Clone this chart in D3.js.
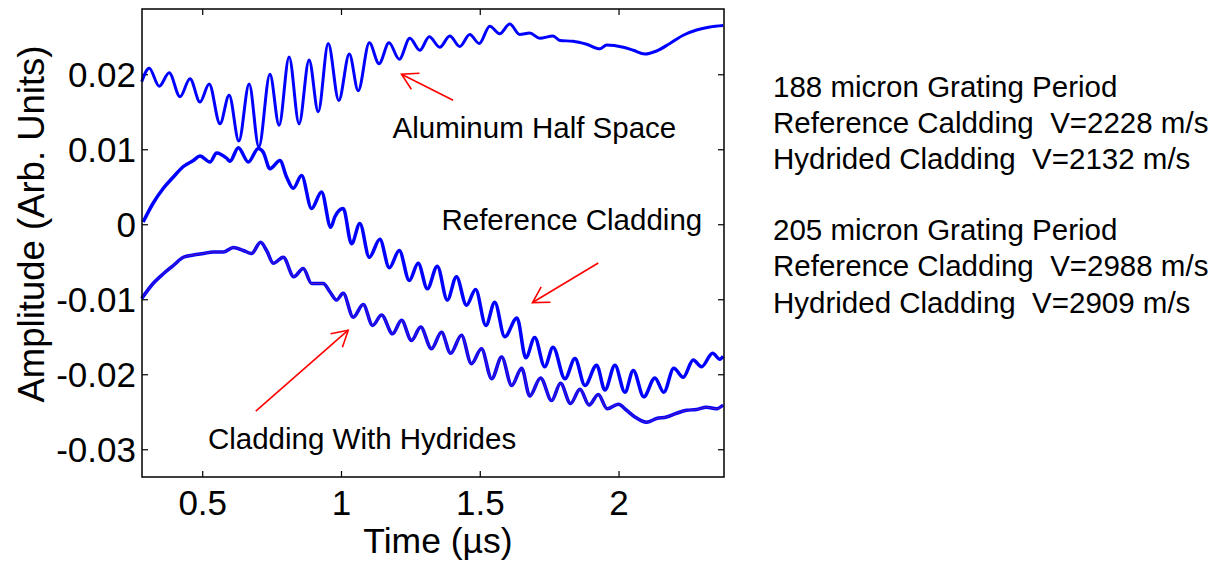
<!DOCTYPE html>
<html><head><meta charset="utf-8">
<script src="https://cdn.jsdelivr.net/npm/d3@7"></script>
<style>
body{margin:0;background:#fff}
text{font-family:"Liberation Sans",Arial,Helvetica,sans-serif;fill:#000}
</style>
</head><body>
<svg id="chart" width="1222" height="571"></svg>
<script>
// ---------- data (time in µs, amplitude in arb. units) ----------
const timeAl = [0.282,0.309,0.345,0.381,0.420,0.456,0.492,0.525,0.564,0.597,0.632,0.669,0.704,0.744,0.777,0.813,0.849,0.885,0.918,0.954,0.992,1.030,1.062,1.102,1.137,1.173,1.210,1.248,1.284,1.318,1.356,1.392,1.428,1.464,1.498,1.536,1.572,1.608,1.644,1.680,1.716,1.764,1.789,1.836,1.885,1.933,1.957,2.017,2.053,2.095,2.137,2.185,2.233,2.281,2.329,2.377];
const ampAl  = [0.0190,0.0208,0.0184,0.0202,0.0170,0.0194,0.0163,0.0187,0.0134,0.0172,0.0111,0.0187,0.0103,0.0200,0.0132,0.0223,0.0134,0.0219,0.0150,0.0241,0.0165,0.0227,0.0178,0.0242,0.0214,0.0242,0.0220,0.0248,0.0232,0.0250,0.0236,0.0251,0.0237,0.0253,0.0241,0.0264,0.0254,0.0267,0.0253,0.0255,0.0248,0.0251,0.0245,0.0244,0.0240,0.0234,0.0239,0.0236,0.0232,0.0227,0.0231,0.0241,0.0252,0.0259,0.0263,0.0265];

const timeRef = [0.287,0.323,0.360,0.396,0.432,0.468,0.492,0.528,0.552,0.588,0.600,0.630,0.666,0.702,0.720,0.744,0.780,0.804,0.828,0.858,0.894,0.930,0.963,0.978,1.008,1.038,1.068,1.102,1.140,1.174,1.210,1.246,1.278,1.311,1.347,1.383,1.416,1.452,1.485,1.522,1.554,1.590,1.634,1.666,1.698,1.734,1.764,1.807,1.843,1.879,1.921,1.951,1.987,2.023,2.053,2.091,2.131,2.163,2.199,2.233,2.269,2.299,2.339,2.365,2.377];
const ampRef  = [0.0003,0.0028,0.0048,0.0063,0.0077,0.0085,0.0091,0.0083,0.0095,0.0088,0.0084,0.0102,0.0083,0.0101,0.0096,0.0074,0.0085,0.0063,0.0048,0.0065,0.0021,0.0043,-0.0004,0.0010,0.0021,-0.0026,0.0001,-0.0044,-0.0020,-0.0058,-0.0035,-0.0075,-0.0052,-0.0086,-0.0056,-0.0101,-0.0070,-0.0108,-0.0087,-0.0135,-0.0104,-0.0150,-0.0125,-0.0178,-0.0151,-0.0190,-0.0164,-0.0206,-0.0179,-0.0215,-0.0188,-0.0221,-0.0188,-0.0224,-0.0195,-0.0230,-0.0205,-0.0224,-0.0192,-0.0204,-0.0181,-0.0190,-0.0172,-0.0180,-0.0176];

const timeHyd = [0.282,0.323,0.360,0.396,0.432,0.468,0.504,0.540,0.576,0.612,0.648,0.678,0.710,0.732,0.756,0.792,0.830,0.864,0.894,0.936,0.960,0.984,1.008,1.044,1.080,1.114,1.146,1.186,1.218,1.254,1.287,1.326,1.362,1.395,1.434,1.470,1.506,1.543,1.579,1.615,1.651,1.680,1.719,1.759,1.791,1.827,1.861,1.894,1.927,1.959,1.999,2.029,2.059,2.101,2.137,2.173,2.209,2.245,2.281,2.317,2.353,2.377];
const ampHyd  = [-0.0099,-0.0079,-0.0066,-0.0055,-0.0044,-0.0041,-0.0039,-0.0037,-0.0037,-0.0031,-0.0035,-0.0039,-0.0024,-0.0035,-0.0052,-0.0044,-0.0070,-0.0059,-0.0079,-0.0079,-0.0090,-0.0101,-0.0092,-0.0124,-0.0107,-0.0135,-0.0121,-0.0146,-0.0128,-0.0155,-0.0137,-0.0166,-0.0144,-0.0172,-0.0148,-0.0186,-0.0166,-0.0206,-0.0177,-0.0215,-0.0192,-0.0229,-0.0205,-0.0235,-0.0212,-0.0239,-0.0220,-0.0241,-0.0227,-0.0246,-0.0240,-0.0248,-0.0257,-0.0264,-0.0259,-0.0257,-0.0252,-0.0248,-0.0247,-0.0244,-0.0246,-0.0241];

const xTicks = [0.5, 1, 1.5, 2];
const xTickLabels = ["0.5", "1", "1.5", "2"];
const yTicks = [-0.03, -0.02, -0.01, 0, 0.01, 0.02];
const yTickLabels = ["-0.03", "-0.02", "-0.01", "0", "0.01", "0.02"];
const xDomain = [0.283, 2.38];
const yDomain = [-0.0337, 0.0287];

const xTitle = "Time (\u00B5s)";
const yTitle = "Amplitude (Arb. Units)";

const labelTexts = ["Aluminum Half Space", "Reference Cladding", "Cladding With Hydrides"];
const labelTime  = [1.186, 1.362, 0.5205];
const labelAmp   = [0.01147, -0.0008, -0.0300];

const arrowFromTime = [1.404, 1.927, 0.693];
const arrowFromAmp  = [0.01653, -0.00516, -0.02493];
const arrowToTime   = [1.218, 1.690, 1.026];
const arrowToAmp    = [0.0200, -0.01044, -0.01413];

const notes = ["188 micron Grating Period", "Reference Caldding  V=2228 m/s", "Hydrided Cladding  V=2132 m/s",
               "205 micron Grating Period", "Reference Cladding  V=2988 m/s", "Hydrided Cladding  V=2909 m/s"];

// ---------- layout ----------
const L = 142, R = 724, T = 9, B = 477;
const svg = d3.select("#chart");
const x = d3.scaleLinear().domain(xDomain).range([L, R]);
const y = d3.scaleLinear().domain(yDomain).range([B, T]);

// axes (ticks inward on all sides)
const tickLen = 6;
const gB = svg.append("g").attr("transform", `translate(0,${B})`)
  .call(d3.axisBottom(x).tickValues(xTicks).tickFormat((d,i)=>xTickLabels[i]).tickSizeInner(-tickLen).tickSizeOuter(0).tickPadding(13));
const gT = svg.append("g").attr("transform", `translate(0,${T})`)
  .call(d3.axisTop(x).tickValues(xTicks).tickFormat("").tickSizeInner(-tickLen).tickSizeOuter(0));
const gL = svg.append("g").attr("transform", `translate(${L},0)`)
  .call(d3.axisLeft(y).tickValues(yTicks).tickFormat((d,i)=>yTickLabels[i]).tickSizeInner(-tickLen).tickSizeOuter(0).tickPadding(6));
const gR = svg.append("g").attr("transform", `translate(${R},0)`)
  .call(d3.axisRight(y).tickValues(yTicks).tickFormat("").tickSizeInner(-tickLen).tickSizeOuter(0));
[gB,gT,gL,gR].forEach(g=>{
  g.select(".domain").remove();
  g.selectAll(".tick line").attr("stroke","#000").attr("stroke-width",1.2);
  g.selectAll(".tick text").style("font-size","35px").attr("fill","#000")
   .style("font-family",'"Liberation Sans",Arial,sans-serif');
});
gL.selectAll(".tick text").attr("dy","0.36em");
gB.selectAll(".tick text").attr("dy","0.71em");

// series
const line = d3.line().x(d=>x(d[0])).y(d=>y(d[1])).curve(d3.curveMonotoneX);
const sAl  = timeAl.map((t,i)=>[t, ampAl[i]]);
const sRef = timeRef.map((t,i)=>[t, ampRef[i]]);
const sHyd = timeHyd.map((t,i)=>[t, ampHyd[i]]);

const plot = svg.append("g");
plot.append("path").datum(sAl).attr("d", line).attr("fill","none").attr("stroke","#0000ff").attr("stroke-width",3).attr("stroke-linejoin","round");
plot.append("path").datum(sRef).attr("d", line).attr("fill","none").attr("stroke","#0000ff").attr("stroke-width",3.5).attr("stroke-linejoin","round");
plot.append("path").datum(sHyd).attr("d", line).attr("fill","none").attr("stroke","#0000ff").attr("stroke-width",3.5).attr("stroke-linejoin","round");
plot.append("path").datum(sHyd).attr("d", line).attr("fill","none").attr("stroke","#6a1fa8").attr("stroke-width",1).attr("stroke-opacity",0.8);

// frame
svg.append("rect").attr("x",L).attr("y",T).attr("width",R-L).attr("height",B-T)
  .attr("fill","none").attr("stroke","#000").attr("stroke-width",1.5);

// axis titles
svg.append("text").attr("x",(L+R)/2+5).attr("y",553).attr("text-anchor","middle")
  .style("font-size","35.5px").text(xTitle);
svg.append("text").attr("transform",`translate(44,224) rotate(-90)`).attr("text-anchor","middle")
  .style("font-size","36.5px").text(yTitle);

// annotation labels
labelTexts.forEach((t,i)=>{
  svg.append("text").attr("x",x(labelTime[i])).attr("y",y(labelAmp[i]))
    .style("font-size","29.5px").text(t);
});

// arrows
const headLen = 18, headAng = Math.PI/6;
arrowFromTime.forEach((t,i)=>{
  const x1 = x(t), y1 = y(arrowFromAmp[i]), x2 = x(arrowToTime[i]), y2 = y(arrowToAmp[i]);
  const a = Math.atan2(y1-y2, x1-x2);
  const g = svg.append("g").attr("stroke","#ff0000").attr("stroke-width",1.6).attr("fill","none");
  g.append("line").attr("x1",x1).attr("y1",y1).attr("x2",x2).attr("y2",y2);
  g.append("path").attr("d", `M${x2+headLen*Math.cos(a+headAng)},${y2+headLen*Math.sin(a+headAng)}L${x2},${y2}L${x2+headLen*Math.cos(a-headAng)},${y2+headLen*Math.sin(a-headAng)}`);
});

// side notes
const noteY = [96.7, 133, 169.3, 240, 276.3, 312.6];
notes.forEach((t,i)=>{
  svg.append("text").attr("x",773).attr("y",noteY[i]).style("font-size","29.5px")
    .style("white-space","pre").attr("xml:space","preserve").text(t);
});
</script>
</body></html>
